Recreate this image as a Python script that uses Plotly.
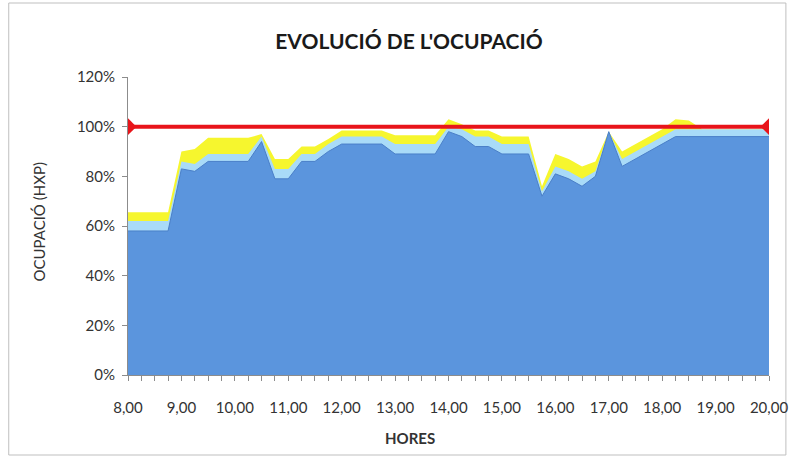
import plotly.graph_objects as go

# Hores de mesura (cada 15 minuts)
hores = [8.00, 8.25, 8.50, 8.75, 9.00, 9.25, 9.50, 9.75, 10.00, 10.25, 10.50, 10.75,
         11.00, 11.25, 11.50, 11.75, 12.00, 12.25, 12.50, 12.75, 13.00, 13.25, 13.50, 13.75,
         14.00, 14.25, 14.50, 14.75, 15.00, 15.25, 15.50, 15.75, 16.00, 16.25, 16.50, 16.75,
         17.00, 17.25, 17.50, 17.75, 18.00, 18.25, 18.50, 18.75, 19.00, 19.25, 19.50, 19.75, 20.00]

# Ocupació (%) - cara frontal, cara superior i capa posterior
ocupacio_frontal = [58, 58, 58, 58, 83, 82, 86, 86, 86, 86, 94, 79,
                    79, 86, 86, 90, 93, 93, 93, 93, 89, 89, 89, 89,
                    98, 96, 92, 92, 89, 89, 89, 72, 81, 79, 76, 80,
                    98, 84, 87, 90, 93, 96, 96, 96, 96, 96, 96, 96, 96]
ocupacio_superior = [62, 62, 62, 62, 86, 85, 89, 89, 89, 89, 96, 83,
                     83, 89, 89, 93, 96, 96, 96, 96, 93, 93, 93, 93,
                     100, 99, 96, 96, 93, 93, 93, 74, 84, 82, 79, 82,
                     98, 87, 90, 93, 96, 99, 99, 99, 99, 99, 99, 99, 99]
ocupacio_posterior = [65.5, 65.5, 65.5, 65.5, 90, 91, 95.5, 95.5, 95.5, 95.5, 97, 87,
                      87, 92, 92, 95, 98.5, 98.5, 98.5, 98.5, 96.5, 96.5, 96.5, 96.5,
                      103, 101, 98.5, 98.5, 96, 96, 96, 76, 89, 87, 84, 86,
                      98, 90, 93, 96, 99, 103, 102.5, 99, 99, 99, 99, 99, 99]

# Línia de referència del 100%
limit_hores = [8.00, 20.00]
limit_valor = [100, 100]

etiquetes_x = ["8,00", "9,00", "10,00", "11,00", "12,00", "13,00", "14,00",
               "15,00", "16,00", "17,00", "18,00", "19,00", "20,00"]
valors_x = [8, 9, 10, 11, 12, 13, 14, 15, 16, 17, 18, 19, 20]
valors_y = [0, 20, 40, 60, 80, 100, 120]
etiquetes_y = ["0%", "20%", "40%", "60%", "80%", "100%", "120%"]

FONT = "Lato, 'Open Sans', sans-serif"
GRIS = "#8C8C8C"
TEXT = "#333333"

fig = go.Figure()

fig.add_trace(go.Scatter(x=hores, y=ocupacio_posterior, mode="lines", fill="tozeroy",
                         line=dict(color="#F6F62E", width=0), fillcolor="#F6F62E",
                         hoverinfo="skip", showlegend=False))
fig.add_trace(go.Scatter(x=hores, y=ocupacio_superior, mode="lines", fill="tozeroy",
                         line=dict(color="#A9DBF8", width=0), fillcolor="#A9DBF8",
                         hoverinfo="skip", showlegend=False))
fig.add_trace(go.Scatter(x=hores, y=ocupacio_frontal, mode="lines", fill="tozeroy",
                         line=dict(color="#4A7FC8", width=1), fillcolor="#5B95DD",
                         showlegend=False))
fig.add_trace(go.Scatter(x=limit_hores, y=limit_valor, mode="lines+markers",
                         line=dict(color="#E8141A", width=4),
                         marker=dict(symbol="diamond", size=13, color="#E8141A"),
                         showlegend=False))

fig.update_layout(
    width=800, height=462,
    margin=dict(l=128, r=27, t=77, b=87),
    paper_bgcolor="white", plot_bgcolor="white",
    font=dict(family=FONT, size=15, color=TEXT),
    title=dict(text="<b>EVOLUCIÓ DE L'OCUPACIÓ</b>", x=409 / 800, xanchor="center",
               y=1 - 42 / 462, yanchor="middle", font=dict(size=21, color="#1a1a1a")),
    xaxis=dict(range=[8, 20], tickvals=valors_x, ticktext=etiquetes_x,
               showgrid=False, zeroline=False, showline=True, linecolor=GRIS,
               ticks="outside", ticklen=5, tickcolor=GRIS, ticklabelstandoff=14,
               minor=dict(dtick=0.25, tick0=8, ticks="outside", ticklen=5,
                          tickcolor=GRIS, showgrid=False),
               tickfont=dict(size=15, color=TEXT)),
    yaxis=dict(range=[0, 120], tickvals=valors_y, ticktext=etiquetes_y,
               showgrid=False, zeroline=False, showline=True, linecolor=GRIS,
               ticks="outside", ticklen=5, tickcolor=GRIS, ticklabelstandoff=4,
               tickfont=dict(size=15, color=TEXT)),
    annotations=[
        dict(text="<b>HORES</b>", xref="paper", yref="paper",
             x=(412 - 128) / 645, y=(375 - 438) / 298, xanchor="center", yanchor="middle",
             showarrow=False, font=dict(size=15, color=TEXT)),
        dict(text="OCUPACIÓ (HXP)", xref="paper", yref="paper", textangle=-90,
             x=(38 - 128) / 645, y=(375 - 222) / 298, xanchor="center", yanchor="middle",
             showarrow=False, font=dict(size=15, color=TEXT)),
    ],
)

# Marc del gràfic
fig.add_shape(type="rect", xref="paper", yref="paper",
              x0=(8 - 128) / 645, x1=(790 - 128) / 645,
              y0=(375 - 455) / 298, y1=(375 - 3) / 298,
              line=dict(color="#BFBFBF", width=1), layer="below")

fig.write_html("out.html")
